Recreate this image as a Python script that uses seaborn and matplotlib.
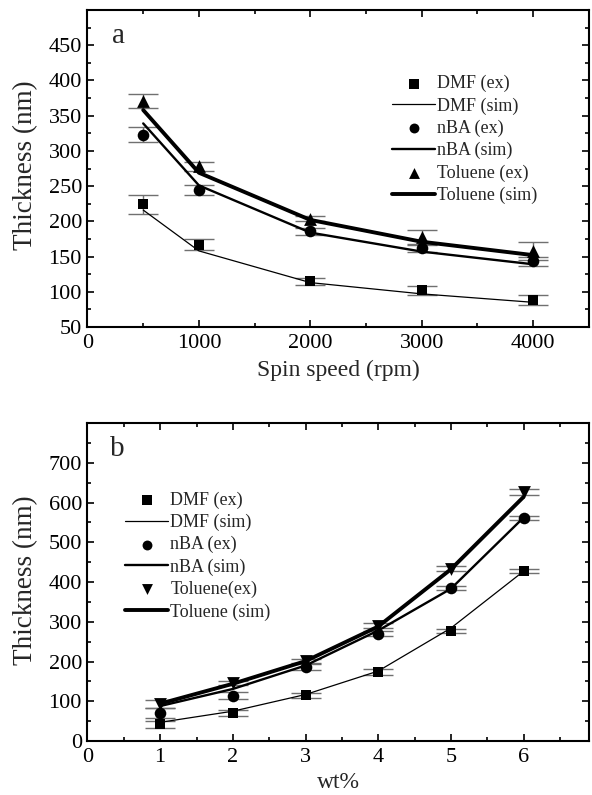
import numpy as np
import pandas as pd
import matplotlib
matplotlib.use("Agg")
import matplotlib.pyplot as plt
from matplotlib.ticker import MultipleLocator, FuncFormatter
import seaborn as sns

# ---------------- data: panel a ----------------
spin_speed = [500, 1000, 2000, 3000, 4000]
dmf_ex_a = [224, 167, 115, 102, 88]
dmf_err_a = [14, 8, 5, 6, 7]
dmf_sim_a = [216, 158, 113, 97, 85]
nba_ex_a = [323, 244, 186, 162, 143]
nba_err_a = [11, 7, 5, 5, 7]
nba_sim_a = [339, 251, 184, 157, 139]
tol_ex_a = [371, 278, 204, 178, 158]
tol_err_a = [10, 6, 4, 10, 13]
tol_sim_a = [358, 269, 202, 171, 152]

# ---------------- data: panel b ----------------
wt = [1, 2, 3, 4, 5, 6]
dmf_ex_b = [42, 71, 115, 174, 277, 427]
dmf_err_b = [8, 8, 7, 7, 6, 5]
dmf_sim_b = [47, 75, 117, 176, 284, 427]
nba_ex_b = [70, 114, 186, 270, 384, 561]
nba_err_b = [12, 9, 7, 7, 5, 5]
nba_sim_b = [88, 131, 190, 278, 383, 562]
tol_ex_b = [92, 146, 202, 290, 434, 626]
tol_err_b = [10, 6, 5, 6, 7, 8]
tol_sim_b = [94, 144, 201, 288, 432, 614]

sns.set_style("ticks")
plt.rcParams["font.family"] = ["Liberation Serif", "DejaVu Serif"]

fig = plt.figure(figsize=(5.92, 7.95), dpi=100)
axA = fig.add_axes([0.1478, 0.5887, 0.847, 0.3987])
axB = fig.add_axes([0.1478, 0.0679, 0.847, 0.40])

ERR_COLOR = "#707070"


def draw(ax, x, series, marker_list, labels):
    for (ex, err, sim), mk, (lab_ex, lab_sim, lw) in zip(series, marker_list, labels):
        df = pd.DataFrame({"x": x, "ex": ex, "sim": sim})
        ax.errorbar(x, ex, yerr=err, fmt="none", ecolor=ERR_COLOR,
                    elinewidth=1.0, capsize=11, capthick=1.0, zorder=1)
        sns.scatterplot(data=df, x="x", y="ex", marker=mk[0], s=mk[1],
                        color="black", edgecolor="black", linewidth=0,
                        ax=ax, zorder=3, label=lab_ex)
        sns.lineplot(data=df, x="x", y="sim", color="black", linewidth=lw,
                     ax=ax, zorder=2, label=lab_sim)


def style(ax, xlim, ylim, xmaj, xmin, ymaj, ymin):
    ax.set_xlim(*xlim)
    ax.set_ylim(*ylim)
    ax.xaxis.set_major_locator(MultipleLocator(xmaj))
    ax.xaxis.set_minor_locator(MultipleLocator(xmin))
    ax.yaxis.set_major_locator(MultipleLocator(ymaj))
    ax.yaxis.set_minor_locator(MultipleLocator(ymin))
    top = ylim[1]
    ax.yaxis.set_major_formatter(
        FuncFormatter(lambda v, p: "" if abs(v - top) < 1e-6 else f"{v:g}"))
    ax.xaxis.set_major_formatter(FuncFormatter(lambda v, p: f"{v:g}"))
    for sp in ax.spines.values():
        sp.set_linewidth(1.5)
        sp.set_color("black")
    ax.tick_params(which="both", direction="in", top=True, right=True,
                   width=1.2, colors="black", labelsize=16)
    ax.tick_params(which="major", length=5, pad=5)
    ax.tick_params(which="minor", length=3)
    ax.tick_params(axis="y", which="major", pad=4)


series_a = [(dmf_ex_a, dmf_err_a, dmf_sim_a),
            (nba_ex_a, nba_err_a, nba_sim_a),
            (tol_ex_a, tol_err_a, tol_sim_a)]
draw(axA, spin_speed, series_a,
     [("s", 60), ("o", 70), ("^", 85)],
     [("DMF (ex)", "DMF (sim)", 0.9),
      ("nBA (ex)", "nBA (sim)", 1.7),
      ("Toluene (ex)", "Toluene (sim)", 2.8)])

series_b = [(dmf_ex_b, dmf_err_b, dmf_sim_b),
            (nba_ex_b, nba_err_b, nba_sim_b),
            (tol_ex_b, tol_err_b, tol_sim_b)]
draw(axB, wt, series_b,
     [("s", 60), ("o", 70), ("v", 85)],
     [("DMF (ex)", "DMF (sim)", 0.9),
      ("nBA (ex)", "nBA (sim)", 1.7),
      ("Toluene(ex)", "Toluene (sim)", 2.8)])

style(axA, (0, 4500), (50, 500), 1000, 500, 50, 25)
style(axB, (0, 6.9), (0, 800), 1, 0.5, 100, 50)

axA.set_xlabel("Spin speed (rpm)", fontsize=17)
axA.set_ylabel("Thickness (nm)", fontsize=19.5)
axB.set_xlabel("wt%", fontsize=17)
axB.set_ylabel("Thickness (nm)", fontsize=19.5)
for ax, ylab_y, xlab_y in [(axA, 0.51, -0.136), (axB, 0.506, -0.132)]:
    ax.xaxis.label.set_va("center")
    ax.yaxis.label.set_va("center")
    ax.xaxis.set_label_coords(0.50, xlab_y)
    ax.yaxis.set_label_coords(-0.123, ylab_y)

axA.text(0.048, 0.895, "a", transform=axA.transAxes, fontsize=21,
         va="baseline", ha="left")
axB.text(0.044, 0.895, "b", transform=axB.transAxes, fontsize=21,
         va="baseline", ha="left")

for ax, anchor in [(axA, (0.607, 0.795)), (axB, (0.075, 0.785))]:
    h, l = ax.get_legend_handles_labels()
    ax.legend(h, l, loc="upper left", bbox_to_anchor=anchor, frameon=False,
              fontsize=13, handlelength=2.4, handletextpad=0.1,
              labelspacing=0.28, borderpad=0, borderaxespad=0,
              markerscale=0.85)

fig.savefig("out.png", dpi=100, facecolor="white")
